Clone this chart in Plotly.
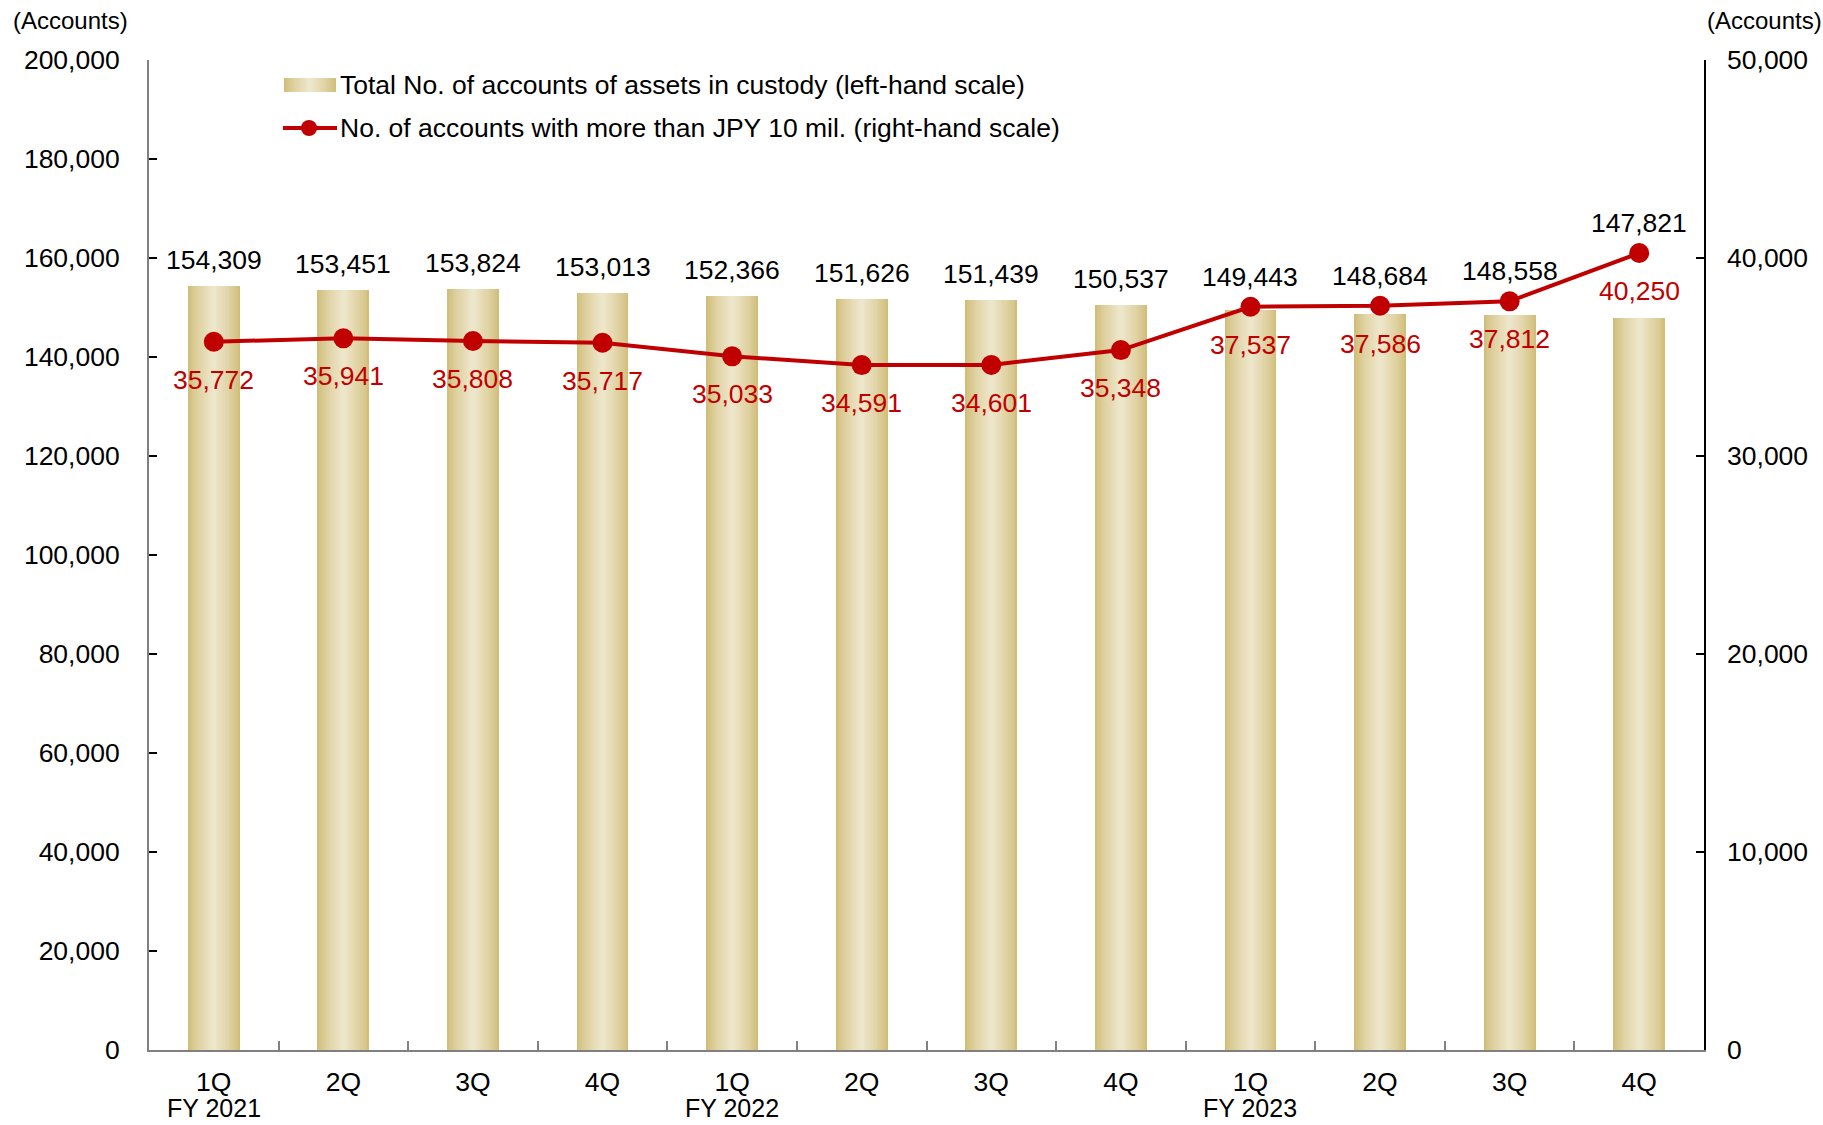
import plotly.graph_objects as go

# ---------------- data ----------------
quarters = ["1Q", "2Q", "3Q", "4Q", "1Q", "2Q", "3Q", "4Q", "1Q", "2Q", "3Q", "4Q"]
fiscal_years = ["FY 2021", "", "", "", "FY 2022", "", "", "", "FY 2023", "", "", ""]
total_accounts = [154309, 153451, 153824, 153013, 152366, 151626,
                  151439, 150537, 149443, 148684, 148558, 147821]
accounts_over_10mil = [35772, 35941, 35808, 35717, 35033, 34591,
                       34601, 35348, 37537, 37586, 37812, 40250]
left_ticks = list(range(0, 200001, 20000))
right_ticks = list(range(0, 50001, 10000))
bar_legend = "Total No. of accounts of assets in custody (left-hand scale)"
line_legend = "No. of accounts with more than JPY 10 mil. (right-hand scale)"
unit_label = "(Accounts)"

# ---------------- style ----------------
FONT = "Liberation Sans, Arial, sans-serif"
FS = 26.5
RED = "#c00000"
AXIS_GRAY = "#808080"
EDGE = (209, 190, 122)
CENTER = (238, 230, 203)
BAR_WIDTH = 0.40
LEFT_MAX, RIGHT_MAX = 200000, 50000

x_idx = list(range(len(quarters)))


def mix(t):
    c = [round(EDGE[j] + (CENTER[j] - EDGE[j]) * t) for j in range(3)]
    return f"rgb({c[0]},{c[1]},{c[2]})"


fig = go.Figure()

# gradient bars: overlaid layers of decreasing width
N = 14
for k in range(N):
    w = BAR_WIDTH * (1 - k / N)
    t = (k / (N - 1)) ** 0.8
    fig.add_trace(go.Bar(
        x=x_idx, y=total_accounts, width=w,
        marker=dict(color=mix(t), line=dict(width=0)),
        showlegend=False, hoverinfo="skip" if k else "y",
        yaxis="y",
    ))

fig.add_trace(go.Scatter(
    x=x_idx, y=accounts_over_10mil, yaxis="y2", mode="lines+markers",
    line=dict(color=RED, width=4), marker=dict(color=RED, size=20),
    showlegend=False,
))

annotations = []
# bar labels
for i, (b, l) in enumerate(zip(total_accounts, accounts_over_10mil)):
    if l / RIGHT_MAX > b / LEFT_MAX:
        annotations.append(dict(x=i, y=l, xref="x", yref="y2", text=f"{b:,}",
                                showarrow=False, yanchor="middle", yshift=30,
                                font=dict(size=FS, color="black", family=FONT)))
    else:
        annotations.append(dict(x=i, y=b, xref="x", yref="y", text=f"{b:,}",
                                showarrow=False, yanchor="middle", yshift=26,
                                font=dict(size=FS, color="black", family=FONT)))
    annotations.append(dict(x=i, y=l, xref="x", yref="y2", text=f"{l:,}",
                            showarrow=False, yanchor="middle", yshift=-38,
                            font=dict(size=FS, color=RED, family=FONT)))

# fiscal-year labels under the quarter ticks
for i, fy in enumerate(fiscal_years):
    if fy:
        annotations.append(dict(x=i, y=0, xref="x", yref="paper", text=fy,
                                showarrow=False, yanchor="middle", yshift=-58,
                                borderpad=0,
                                font=dict(size=25, color="black", family=FONT)))

# axis unit labels
annotations.append(dict(x=-0.0508, y=1.0404, xref="paper", yref="paper", text=unit_label,
                        showarrow=False, xanchor="center", yanchor="middle",
                        font=dict(size=24, color="black", family=FONT)))
annotations.append(dict(x=1.0386, y=1.0404, xref="paper", yref="paper", text=unit_label,
                        showarrow=False, xanchor="center", yanchor="middle",
                        font=dict(size=24, color="black", family=FONT)))

# manual legend
leg_x0, leg_x1 = 0.0868, 0.1203
leg_y1_top, leg_y1_bot = 0.9818, 0.9677
leg_y2 = 0.9313
shapes = []
M = 14
for k in range(M):
    t = (k / (M - 1)) ** 0.8
    half = (leg_x1 - leg_x0) / 2 * (1 - k / M)
    mid = (leg_x0 + leg_x1) / 2
    shapes.append(dict(type="rect", xref="paper", yref="paper",
                       x0=mid - half, x1=mid + half, y0=leg_y1_bot, y1=leg_y1_top,
                       fillcolor=mix(t), line=dict(width=0), layer="above"))
shapes.append(dict(type="line", xref="paper", yref="paper", x0=0.0862, x1=0.1209,
                   y0=leg_y2, y1=leg_y2, line=dict(color=RED, width=4), layer="above"))
mx = 0.1029
shapes.append(dict(type="circle", xref="paper", yref="paper",
                   xsizemode="pixel", ysizemode="pixel", xanchor=mx, yanchor=leg_y2,
                   x0=-8, x1=8, y0=-8, y1=8,
                   fillcolor=RED, line=dict(width=0), layer="above"))

annotations.append(dict(x=0.1215, y=(leg_y1_top + leg_y1_bot) / 2, xref="paper", yref="paper",
                        text=bar_legend, showarrow=False, xanchor="left", yanchor="middle",
                        font=dict(size=FS, color="black", family=FONT)))
annotations.append(dict(x=0.1215, y=leg_y2, xref="paper", yref="paper",
                        text=line_legend, showarrow=False, xanchor="left", yanchor="middle",
                        font=dict(size=FS, color="black", family=FONT)))

fig.update_layout(
    width=1823, height=1125,
    margin=dict(l=149, r=119, t=60, b=75),
    paper_bgcolor="white", plot_bgcolor="white",
    barmode="overlay", bargap=0,
    font=dict(family=FONT, size=FS, color="black"),
    showlegend=False,
    xaxis=dict(
        range=[-0.5, len(quarters) - 0.5], automargin=False,
        tickmode="array", tickvals=x_idx, ticktext=quarters,
        ticks="", showgrid=False, zeroline=False,
        showline=True, linecolor=AXIS_GRAY, linewidth=2,
        ticklabelstandoff=7,
        minor=dict(tickmode="array", tickvals=[i + 0.5 for i in x_idx[:-1]],
                   ticks="inside", ticklen=9, tickcolor=AXIS_GRAY, tickwidth=1.5,
                   showgrid=False),
        tickfont=dict(size=FS, family=FONT, color="black"),
    ),
    yaxis=dict(
        range=[0, LEFT_MAX], tickmode="array", tickvals=left_ticks, automargin=False,
        tickformat=",d", ticks="inside", ticklen=8, tickcolor="black", tickwidth=1.5,
        showgrid=False, zeroline=False,
        showline=True, linecolor=AXIS_GRAY, linewidth=2,
        ticklabelstandoff=22,
        tickfont=dict(size=FS, family=FONT, color="black"),
    ),
    yaxis2=dict(
        range=[0, RIGHT_MAX], tickmode="array", tickvals=right_ticks, automargin=False,
        tickformat=",d", ticks="inside", ticklen=8, tickcolor="black", tickwidth=1.5,
        overlaying="y", side="right",
        showgrid=False, zeroline=False,
        showline=True, linecolor="black", linewidth=1.5,
        ticklabelstandoff=16,
        tickfont=dict(size=FS, family=FONT, color="black"),
    ),
    annotations=annotations,
    shapes=shapes,
)

fig.write_html("out.html")
